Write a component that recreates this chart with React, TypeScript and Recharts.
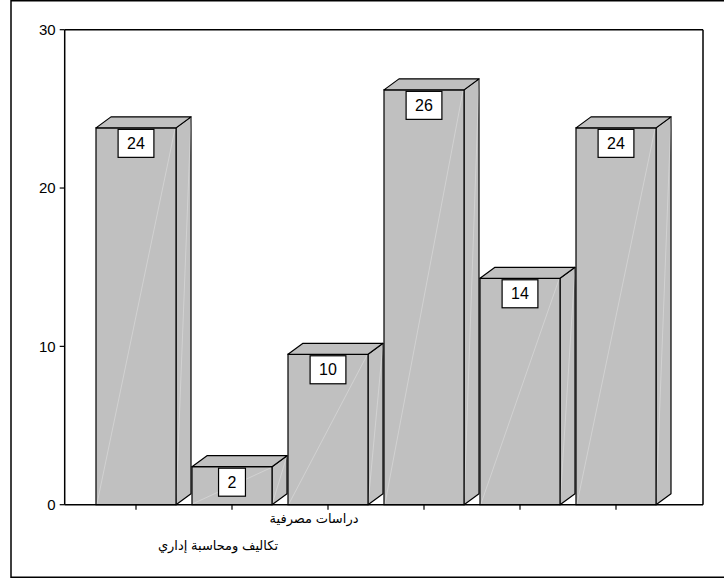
import React from "react";
import { BarChart, Bar, XAxis, YAxis, LabelList } from "recharts";

// Share of respondents (%) per specialisation, n = 42
const categories = ["", "تكاليف ومحاسبة إداري", "دراسات مصرفية", "", "", ""];
const percents = [23.8, 2.4, 9.5, 26.2, 14.3, 23.8];
const yTicks = [0, 10, 20, 30];

const data = categories.map((name, i) => ({ key: i, name, pct: percents[i] }));

const FILL = "#C0C0C0";
const EDGE = "#000000";
const DEPTH_X = 15;
const DEPTH_Y = 11;
const LATIN = "'Liberation Sans', Arial, sans-serif";
const ARABIC = "'Liberation Sans', 'DejaVu Sans', sans-serif";

// Extruded box: front face, top face and right side face
const Box3D = (props: any) => {
  const { x, y, width, height } = props;
  if (width == null || height == null) return null;
  const x2 = x + width;
  const yb = y + height;
  const top = `${x},${y} ${x + DEPTH_X},${y - DEPTH_Y} ${x2 + DEPTH_X},${y - DEPTH_Y} ${x2},${y}`;
  const side = `${x2},${y} ${x2 + DEPTH_X},${y - DEPTH_Y} ${x2 + DEPTH_X},${yb - DEPTH_Y} ${x2},${yb}`;
  return (
    <g>
      <polygon points={side} fill={FILL} stroke={EDGE} strokeWidth={1.2} strokeLinejoin="round" />
      <line x1={x2} y1={yb} x2={x2 + DEPTH_X} y2={y - DEPTH_Y} stroke="#ffffff" strokeOpacity={0.4} strokeWidth={0.7} />
      <rect x={x} y={y} width={width} height={height} fill={FILL} stroke={EDGE} strokeWidth={1.2} />
      <line x1={x + 1} y1={yb - 1} x2={x2 - 1} y2={y + 1} stroke="#ffffff" strokeOpacity={0.4} strokeWidth={0.7} />
      <polygon points={top} fill={FILL} stroke={EDGE} strokeWidth={1.2} strokeLinejoin="round" />
    </g>
  );
};

// Value in a white box hanging just under the top edge of the front face
const ValueBox = (props: any) => {
  const { x, y, width, value } = props;
  const text = String(Math.round(Number(value)));
  const boxW = text.length * 8.9 + 18;
  const boxH = 28;
  const cx = x + width / 2;
  const top = y + 1.5;
  return (
    <g>
      <rect x={cx - boxW / 2} y={top} width={boxW} height={boxH} fill="#ffffff" stroke={EDGE} strokeWidth={1.2} />
      <text x={cx} y={top + 19.5} textAnchor="middle" fontFamily={LATIN} fontSize={16} fill="#000">
        {text}
      </text>
    </g>
  );
};

// Category names staggered on two rows
const CategoryTick = (props: any) => {
  const { x, y, payload } = props;
  const name = categories[payload.value] ?? "";
  if (!name) return null;
  const row = payload.value % 2;
  return (
    <text
      x={x - 14}
      y={y + (row === 0 ? 11.6 : 38.3)}
      textAnchor="middle"
      fontFamily={ARABIC}
      fontSize={13}
      fill="#000"
      direction="rtl"
    >
      {name}
    </text>
  );
};

export default function App() {
  return (
    <div style={{ position: "absolute", left: 0, top: 0, width: 724, height: 579, overflow: "hidden", background: "#fff" }}>
      <BarChart
        width={724}
        height={579}
        data={data}
        margin={{ top: 28.7, right: 20, bottom: 14.3, left: 0 }}
      >
        <XAxis
          dataKey="key"
          type="category"
          height={60}
          padding={{ left: 23.3, right: 39 }}
          axisLine={{ stroke: EDGE, strokeWidth: 1.5 }}
          tickLine={{ stroke: EDGE, strokeWidth: 1.2 }}
          tickSize={5}
          tick={<CategoryTick />}
          interval={0}
        />
        <XAxis
          xAxisId="top"
          dataKey="key"
          orientation="top"
          height={1}
          padding={{ left: 23.3, right: 39 }}
          axisLine={{ stroke: EDGE, strokeWidth: 1.5 }}
          tickLine={false}
          tick={false}
        />
        <YAxis
          domain={[0, 30]}
          ticks={yTicks}
          width={64.7}
          axisLine={{ stroke: EDGE, strokeWidth: 1.5 }}
          tickLine={{ stroke: EDGE, strokeWidth: 1.2 }}
          tickSize={5}
          tickMargin={4}
          tick={{ fontFamily: LATIN, fontSize: 15, fill: "#000" }}
        />
        <YAxis
          yAxisId="right"
          orientation="right"
          domain={[0, 30]}
          width={1}
          axisLine={{ stroke: EDGE, strokeWidth: 1.5 }}
          tickLine={false}
          tick={false}
        />
        <Bar dataKey="pct" barSize={80} shape={<Box3D />} isAnimationActive={false}>
          <LabelList dataKey="pct" content={<ValueBox />} />
        </Bar>
      </BarChart>
      <svg
        width={724}
        height={579}
        style={{ position: "absolute", left: 0, top: 0, pointerEvents: "none" }}
      >
        <rect x={11} y={0.75} width={720} height={576.5} fill="none" stroke={EDGE} strokeWidth={1.5} />
      </svg>
    </div>
  );
}
